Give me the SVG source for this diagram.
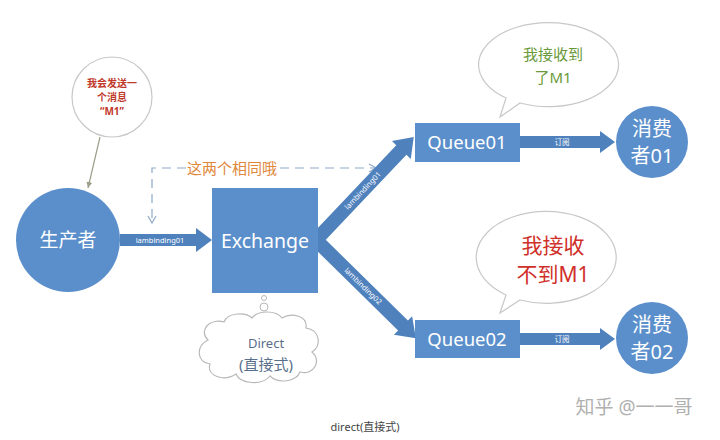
<svg xmlns="http://www.w3.org/2000/svg" width="720" height="440" viewBox="0 0 720 440">
<style>
text{font-family:"Noto Sans","Noto Sans CJK SC",sans-serif;}
.w{fill:#fff;text-anchor:middle;}
.shape{fill:#5b8fcb;}
.arr{fill:#4f81bd;}
.bubble{fill:#fff;stroke:#c8c8c8;stroke-width:1.2;}
.dash{fill:none;stroke:#8ea9c8;stroke-width:1.2;stroke-dasharray:9 6;}
.small{fill:#fff;font-size:7.5px;text-anchor:middle;}
</style>
<defs>
<marker id="thin" markerWidth="10" markerHeight="10" refX="8" refY="5" orient="auto" markerUnits="userSpaceOnUse">
<path d="M1,1 L8,5 L1,9" fill="none" stroke="#8ea9c8" stroke-width="1.2"/>
</marker>
<marker id="gray" markerWidth="8" markerHeight="8" refX="6" refY="4" orient="auto" markerUnits="userSpaceOnUse">
<path d="M0,1 L6,4 L0,7 z" fill="#9aa08a"/>
</marker>
</defs>
<rect width="720" height="440" fill="#fff"/>

<g id="connectors">
<line x1="100" y1="137" x2="88" y2="188" stroke="#9aa08a" stroke-width="1.2" marker-end="url(#gray)"/>
<polyline class="dash" points="186,168 152,168 152,223" marker-end="url(#thin)"/>
<line class="dash" x1="280" y1="168" x2="376" y2="168" marker-end="url(#thin)"/>
<polygon class="arr" points="120,234 196,234 196,228 212,240 196,252 196,246 120,246"/>
<text class="small" x="160" y="243">lambinding01</text>
<g transform="translate(316,240) rotate(-46.5)">
<polygon class="arr" points="0,-7 124,-7 124,-13 142,0 124,13 124,7 0,7"/>
<text class="small" x="68" y="2.5">lambinding01</text>
</g>
<g transform="translate(316,240) rotate(44.5)">
<polygon class="arr" points="0,-7 122,-7 122,-13 140,0 122,13 122,7 0,7"/>
<text class="small" x="66" y="2.5">lambinding02</text>
</g>
<polygon class="arr" points="520,136 600,136 600,131 615,142 600,153 600,148 520,148"/>
<text class="small" x="562" y="145">订阅</text>
<polygon class="arr" points="520,333 600,333 600,328 615,339 600,350 600,345 520,345"/>
<text class="small" x="562" y="342">订阅</text>
</g>

<g id="callout">
<circle cx="112" cy="97" r="40" class="bubble"/>
<text x="112" y="87" fill="#c0392b" font-size="10" font-weight="bold" text-anchor="middle">我会发送一</text>
<text x="112" y="101" fill="#c0392b" font-size="10" font-weight="bold" text-anchor="middle">个消息</text>
<text x="112" y="115" fill="#c0392b" font-size="10" font-weight="bold" text-anchor="middle">“M1”</text>
</g>

<g id="producer">
<circle cx="68" cy="240" r="52" class="shape"/>
<text class="w" x="68" y="247" font-size="19">生产者</text>
</g>

<g id="annotation">
<text x="232" y="174" fill="#e0883a" font-size="15" text-anchor="middle">这两个相同哦</text>
</g>

<g id="exchange">
<rect x="212" y="188" width="106" height="105" class="shape"/>
<text class="w" x="265" y="248" font-size="19.5">Exchange</text>
</g>

<g id="direct">
<circle cx="264" cy="298" r="2.5" fill="#fff" stroke="#b8b8b8"/>
<circle cx="264" cy="307" r="4" fill="#fff" stroke="#b8b8b8"/>
<path d="M208,340 C198,330 210,318 224,322 C228,312 246,312 252,318 C258,310 276,310 282,318 C292,312 308,316 306,328 C320,330 322,346 312,352 C322,360 314,376 300,372 C296,382 278,384 270,376 C262,386 240,384 236,374 C224,382 206,376 210,364 C196,362 196,346 208,340 Z" fill="#fff" stroke="#b8b8b8" stroke-width="1.2"/>
<text x="266" y="348" fill="#5a6f8c" font-size="13" text-anchor="middle">Direct</text>
<text x="266" y="370" fill="#5a6f8c" font-size="15" text-anchor="middle">(直接式)</text>
</g>

<g id="queue01">
<rect x="415" y="123" width="105" height="39" class="shape"/>
<text class="w" x="467" y="149" font-size="18.5">Queue01</text>
</g>

<g id="queue02">
<rect x="415" y="320" width="105" height="38" class="shape"/>
<text class="w" x="467" y="346" font-size="18.5">Queue02</text>
</g>

<g id="bubble01">
<path d="M500,117 L506,98 A70,42 0 1 1 520,103 Z" class="bubble"/>
<text x="553" y="60" fill="#6a9a3a" font-size="15" text-anchor="middle">我接收到</text>
<text x="553" y="83" fill="#6a9a3a" font-size="15" text-anchor="middle">了M1</text>
</g>

<g id="bubble02">
<path d="M500,313 L506,295 A70,46 0 1 1 520,300 Z" class="bubble"/>
<text x="553" y="253" fill="#d0302a" font-size="21" text-anchor="middle">我接收</text>
<text x="553" y="282" fill="#d0302a" font-size="21" text-anchor="middle">不到M1</text>
</g>

<g id="consumer01">
<circle cx="652" cy="142" r="36" class="shape"/>
<text class="w" x="652" y="136" font-size="20">消费</text>
<text class="w" x="652" y="163" font-size="20">者01</text>
</g>

<g id="consumer02">
<circle cx="652" cy="338" r="36" class="shape"/>
<text class="w" x="652" y="332" font-size="20">消费</text>
<text class="w" x="652" y="359" font-size="20">者02</text>
</g>

<text x="365" y="431" fill="#444" font-size="11" text-anchor="middle">direct(直接式)</text>
<text x="634" y="414" fill="#b0b0b0" font-size="19" text-anchor="middle">知乎 @一一哥</text>
</svg>
